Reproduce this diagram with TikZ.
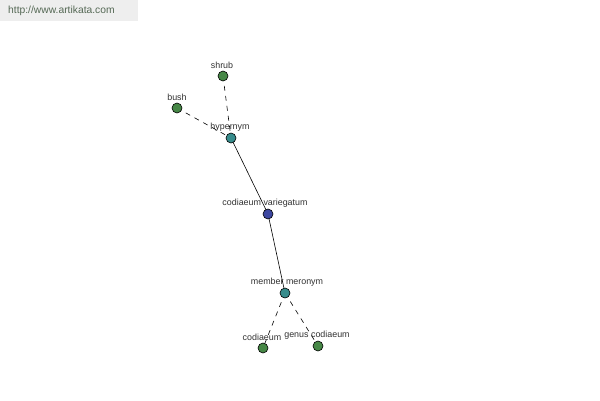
\documentclass[tikz,border=0pt]{standalone}
\usepackage{fontspec}
\setmainfont{Liberation Sans}
\definecolor{leaf}{RGB}{70,135,70}
\definecolor{rel}{RGB}{55,140,140}
\definecolor{root}{RGB}{60,70,160}
\definecolor{hdrbg}{RGB}{238,238,238}
\definecolor{hdrtx}{RGB}{85,105,85}
\definecolor{labtx}{RGB}{50,50,50}
\pgfdeclarelayer{back}
\pgfdeclarelayer{bg}
\pgfdeclarelayer{mid}
\pgfsetlayers{back,bg,mid,main}
\tikzset{
  dot/.style={circle,draw=black,line width=0.6pt,minimum size=10pt,inner sep=0pt},
  leafdot/.style={dot,fill=leaf},
  reldot/.style={dot,fill=rel},
  rootdot/.style={dot,fill=root},
  lab/.style={font=\fontsize{8.9}{9.5}\selectfont,text=labtx,inner sep=0pt},
  dashedge/.style={draw=black,line width=0.6pt,dash pattern=on 5pt off 5pt},
  solidedge/.style={draw=black,line width=0.6pt}
}
\begin{document}
\begin{tikzpicture}[x=1pt,y=-1pt]
\begin{pgfonlayer}{back}
\fill[white] (0,0) rectangle (600,400);
\fill[hdrbg] (0,0) rectangle (138,21);
\end{pgfonlayer}
\useasboundingbox (0,0) rectangle (600,400);
\node[font=\fontsize{10.3}{11}\selectfont,text=hdrtx,anchor=west,inner sep=0pt] (hdr) at (8,11) {http://www.artikata.com};
\begin{pgfonlayer}{bg}
\node[lab] (lshrub) at (222,65) {shrub};
\node[lab] (lbush) at (177,97) {bush};
\node[lab] (lhyp) at (230,127) {hypernym};
\node[lab] (lcv) at (265,203) {codiaeum variegatum};
\node[lab] (lmm) at (287,282) {member meronym};
\node[lab] (lcod) at (262,337) {codiaeum};
\node[lab] (lgc) at (317,335) {genus codiaeum};
\end{pgfonlayer}
\node[leafdot] (shrub) at (223,76) {};
\node[leafdot] (bush) at (177,108) {};
\node[reldot] (hyp) at (231,138) {};
\node[rootdot] (cv) at (268,214) {};
\node[reldot] (mm) at (285,293) {};
\node[leafdot] (cod) at (263,348) {};
\node[leafdot] (gc) at (318,346) {};
\begin{pgfonlayer}{mid}
\draw[dashedge] (shrub.center) -- (hyp.center);
\draw[dashedge] (bush.center) -- (hyp.center);
\draw[solidedge] (hyp.center) -- (cv.center);
\draw[solidedge] (cv.center) -- (mm.center);
\draw[dashedge] (mm.center) -- (cod.center);
\draw[dashedge] (mm.center) -- (gc.center);
\end{pgfonlayer}
\end{tikzpicture}
\end{document}
